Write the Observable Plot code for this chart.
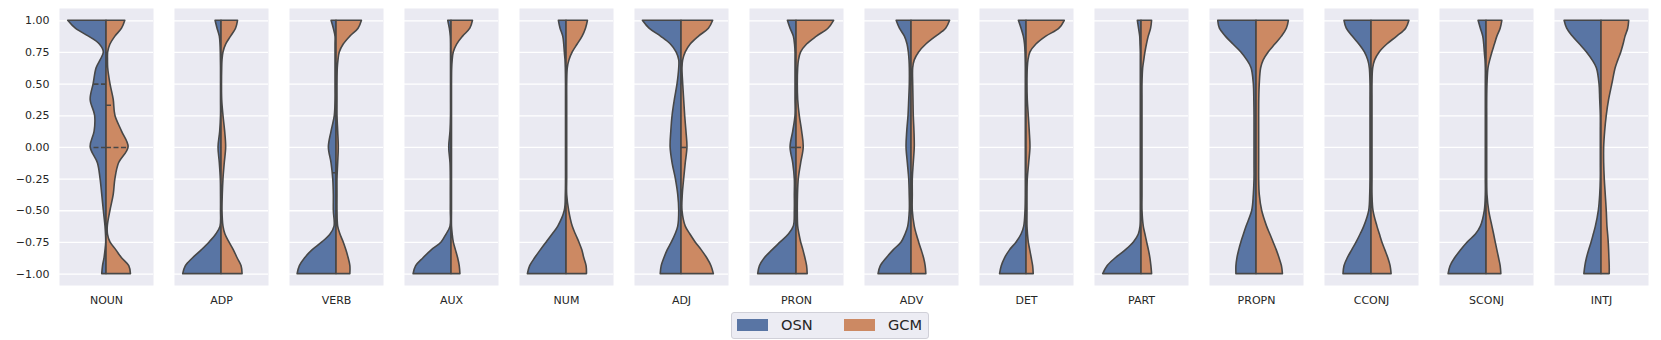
<!DOCTYPE html>
<html>
<head>
<meta charset="utf-8">
<script src="https://cdn.jsdelivr.net/npm/d3@7"></script>
<script src="https://cdn.jsdelivr.net/npm/@observablehq/plot@0.6"></script>
<style>
  html, body { margin: 0; padding: 0; background: #fff; }
  #wrap { position: relative; width: 1661px; height: 340px; font-family: "DejaVu Sans", sans-serif; }
  #legend { position: absolute; left: 731px; top: 312px; width: 196px; height: 25px;
    border: 1px solid #d0d0d8; border-radius: 3px; background: #ececf3; box-sizing: content-box; }
  .sw { position: absolute; top: 6px; width: 31px; height: 12px; }
  .lt { position: absolute; top: 2px; font-size: 14.6px; color: #262626; line-height: 20px; }
</style>
</head>
<body>
<div id="wrap">
  <div id="chart"></div>
  <div id="legend">
    <div class="sw" style="left:5px;background:#5975a4"></div>
    <div class="lt" style="left:49px">OSN</div>
    <div class="sw" style="left:112px;background:#cc8963"></div>
    <div class="lt" style="left:156px">GCM</div>
  </div>
</div>
<script>
// Categories (facets) and series
const categories = ["NOUN","ADP","VERB","AUX","NUM","ADJ","PRON","ADV","DET","PART","PROPN","CCONJ","SCONJ","INTJ"];
const seriesNames = ["OSN","GCM"];
const seriesColors = ["#5975a4","#cc8963"];

// Value levels (y) at which the violin density is read
const levels = [1, 0.9375, 0.875, 0.8125, 0.75, 0.6875, 0.625, 0.5, 0.375, 0.25, 0.125, 0, -0.125, -0.25, -0.375, -0.5, -0.625, -0.6875, -0.75, -0.8125, -0.875, -0.9375, -1];

// Density (half-violin width, arbitrary units) per category, for each series
const osnDensity = [
  [38.7,31,17.7,6.7,2.7,6,10,13,16,11.5,12,16,8.7,6,4.3,2.7,1,0.5,0.3,1,2,3.5,4.3],            // NOUN
  [6,4,1.7,1,0.7,0.6,0.5,0.5,0.5,0.5,1.3,3,1.7,0.7,0.5,0.5,1,5.3,12,20,28.7,36,38.7],          // ADP
  [5,2.7,1,1,1,1,1,1,1,1.7,5,7.7,5,3.3,2.7,2.7,2,6,14.3,24.3,31.7,37,39.3],                   // VERB
  [3.3,1.7,0.7,0.5,0.5,0.5,0.5,0.5,0.5,0.5,1,2.3,1,0.7,0.7,0.7,1,5,10,20,28.3,35.7,38.3],      // AUX
  [7.7,6,3.3,2.3,1.7,1,0.7,0.5,0.5,0.5,0.5,0.5,0.5,0.5,0.7,1.7,8.3,14,20,26,31.7,36.7,39],     // NUM
  [39,32.3,20.7,10.7,5,2.3,2.3,4,6.7,9,10.3,11,9,5.7,3.3,2.3,3.3,6,9.7,14,17.3,20,21],          // ADJ
  [8.7,6,2.7,1.5,1,1,1,1,1,1,3.3,6,3.3,1.7,1.7,1.7,2.7,7.7,16,24.3,32,37,38.7],                // PRON
  [15,11.7,6.7,4,2.7,2,1.7,1.7,2.3,3,4.3,5,3.7,2.3,1.8,1.7,3.3,6,10,18,25,31,33.3],            // ADV
  [7.7,5,2.7,1.5,1,0.8,0.7,0.7,0.7,0.7,0.7,0.7,0.7,0.7,0.7,1,2.3,5,10,16.7,21.7,25,26.7],      // DET
  [3.7,2.5,1.3,1,0.7,0.7,0.7,0.7,0.7,0.7,0.7,0.7,0.7,0.7,0.7,0.7,1,2.7,7.7,16,26,34.3,38.7],   // PART
  [38.7,37,31,23.3,15.3,9.3,5,2.7,2.2,2,2,2,2,2,2.7,4.3,10,12.7,15.3,17.5,19.3,20.3,20.3],     // PROPN
  [27.3,25,19,12.3,6.7,3.3,1.7,1,1,1,1,1,1,1,1.3,2.3,7.3,11,15,19.5,24,27.3,28.3],             // CCONJ
  [8,5.7,3.3,2.3,1.7,1,0.7,0.7,0.7,0.7,0.7,0.7,0.7,0.7,0.7,1.7,5.7,10.7,19,25.7,31.7,36.3,38.3], // SCONJ
  [37.3,34.7,29,21.7,14.7,9,4.7,2,1.3,0.7,0.7,0.7,0.7,0.7,1.3,2.7,5.7,7.8,10,12.5,14.7,16.3,17.3] // INTJ
];
const gcmDensity = [
  [19,15.7,9,4,1.7,1.5,1.7,4,7.3,9,15.7,22.3,12.7,9,7.3,4,1.3,1.5,4,10,15.7,23,24.7],          // NOUN
  [16.7,14.7,9.7,4.7,2,1,0.7,0.5,0.7,2,3.7,4.7,3.3,2,1.3,1,2,4,8,12.5,16.3,20.3,21.3],          // ADP
  [25.7,22.3,14,7.3,3.3,2,1.3,1,1,1,1.7,2.3,1.7,1,1,1,1.7,4,7.3,10,12.3,14,14],                 // VERB
  [21.7,19,11.7,5.7,2.3,1.2,0.7,0.5,0.5,0.5,0.5,0.5,0.5,0.5,0.5,0.5,0.5,1.2,2.3,4.5,6.7,8.3,9], // AUX
  [21.7,19.7,16.3,11.3,6.3,3,1.3,0.7,0.7,0.7,0.7,0.7,0.7,0.7,0.7,2.7,6.3,9.5,13,16,18,20.3,20.7], // NUM
  [32,27.7,17.7,9.3,4.3,1.7,1,1.7,2.7,3.7,5,6,4.3,2.7,1.3,1,4.3,9,14.3,20.5,26,30.3,32.7],      // ADJ
  [38,32.3,20.7,10.7,4.7,2.5,1.7,1.3,1.7,3.3,5.7,7.3,4.7,2.3,1.5,1.3,1.7,3,4.7,7,9,10.7,11.3],  // PRON
  [39,35,25,15,7.7,3.3,1.7,1.7,2,2.3,3,3.3,2.3,1.3,1.3,1.3,3.3,5.3,7.7,10.3,12.7,14.3,15],      // ADV
  [38.7,33.3,20,10,4,2,1.3,1,1.3,2.3,3.3,4,2.7,1.3,1,1,1,1.5,2.3,3.8,5.3,6.7,7.3],              // DET
  [10.7,9.7,7.3,5.5,4,2.8,1.7,1,1,1,1,1,1,1,1,1,2.3,4,5.7,7.5,9,10,10.7],                        // PART
  [32.7,30.7,25.7,19,12.3,7.3,4.7,3.3,2.8,2.7,2.7,2.7,2.7,2.7,3.3,5.7,10.7,14,17.3,20.5,23.3,25.7,26.7], // PROPN
  [38.3,35,26,16,8.3,3.7,1.7,1,1,1,1,1,1,1,1,2,6,8.5,11,14,17,19.3,20.3],                        // CCONJ
  [16,14.3,11,8.5,6,3.8,2,1,0.7,0.7,0.7,0.7,0.7,0.7,1,2.7,6,7.7,9.3,11,12.7,14.3,15],            // SCONJ
  [28,27,24.3,22.3,20,17,14.3,11,7.7,5.3,3.7,2.7,2.7,3.3,4.3,5.3,6,6.7,7.3,7.7,8,8.3,8.3]        // INTJ
];

// Visible inner quartile lines
const quartCategory = ["NOUN","NOUN","NOUN","NOUN","VERB","ADJ","PRON","PRON"];
const quartSeries   = ["OSN","OSN","GCM","GCM","OSN","GCM","OSN","GCM"];
const quartValue    = [0, 0.5, 0, 0.333, -0.2, 0, 0, 0];

const yTicks = [-1, -0.75, -0.5, -0.25, 0, 0.25, 0.5, 0.75, 1];

// Build rows
const rows = [];
categories.forEach((cat, ci) => {
  seriesNames.forEach((s, si) => {
    const dens = si === 0 ? osnDensity[ci] : gcmDensity[ci];
    const sign = si === 0 ? -1 : 1;
    levels.forEach((lv, li) => rows.push({cat, series: s, y: lv, w: sign * dens[li]}));
  });
});
// width of violin at a value (linear between read levels)
function widthAt(ci, si, v) {
  const dens = si === 0 ? osnDensity[ci] : gcmDensity[ci];
  for (let i = 0; i < levels.length - 1; i++) {
    const a = levels[i], b = levels[i + 1];
    if (v <= a && v >= b) { const t = (a - v) / (a - b); return dens[i] + t * (dens[i + 1] - dens[i]); }
  }
  return 0;
}
const quartRows = quartValue.map((v, i) => {
  const ci = categories.indexOf(quartCategory[i]);
  const si = seriesNames.indexOf(quartSeries[i]);
  return {cat: quartCategory[i], y: v, w: (si === 0 ? -1 : 1) * widthAt(ci, si, v)};
});

const chart = Plot.plot({
  width: 1661,
  height: 311,
  marginLeft: 52,
  marginRight: 6,
  marginTop: 8,
  marginBottom: 26,
  style: {fontFamily: "DejaVu Sans, sans-serif", fontSize: "11px", color: "#262626", background: "white"},
  fx: {domain: categories, paddingInner: 0.181, paddingOuter: 0, label: null, tickSize: 0, tickPadding: 11},
  x: {domain: [-47.5, 47.5], axis: null},
  y: {domain: [-1.09, 1.097], ticks: yTicks, tickFormat: d3.format(".2f"), tickSize: 0, tickPadding: 10, label: null},
  color: {domain: seriesNames, range: seriesColors},
  marks: [
    Plot.frame({fill: "#eaeaf2", stroke: null}),
    Plot.gridY(yTicks, {stroke: "white", strokeOpacity: 1, strokeWidth: 1.3}),
    Plot.areaX(rows, {fx: "cat", y: "y", x1: 0, x2: "w", z: "series", fill: "series",
      stroke: "#474747", strokeWidth: 1.6, strokeLinejoin: "round", curve: "catmull-rom"}),
    Plot.ruleY(quartRows, {fx: "cat", y: "y", x1: 0, x2: "w", stroke: "#474747", strokeWidth: 1.6, strokeDasharray: "5,2.5"})
  ]
});
document.getElementById("chart").appendChild(chart);
</script>
</body>
</html>
